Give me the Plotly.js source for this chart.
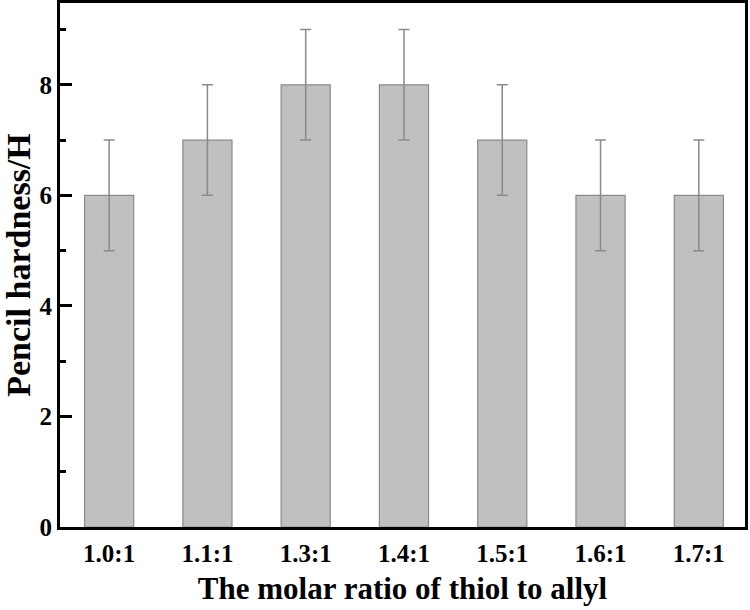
<!DOCTYPE html>
<html>
<head>
<meta charset="utf-8">
<script src="https://cdn.plot.ly/plotly-3.0.1.min.js"></script>
<style>html,body{margin:0;padding:0;background:#fff;}#chart{width:750px;height:610px;}</style>
</head>
<body>
<div id="chart"></div>
<script>
const categories = ["1.0:1", "1.1:1", "1.3:1", "1.4:1", "1.5:1", "1.6:1", "1.7:1"];
const hardness = [6, 7, 8, 8, 7, 6, 6];
const errors = [1, 1, 1, 1, 1, 1, 1];
const yTickVals = [0, 2, 4, 6, 8];
const yMinorVals = [1, 3, 5, 7, 9];
const xLabel = "The molar ratio of thiol to allyl";
const yLabel = "Pencil hardness/H";

const font = {family: "Liberation Serif, Times New Roman, serif", color: "#000"};

const trace = {
  type: "bar",
  x: categories.map((c, i) => i),
  y: hardness,
  width: 0.5,
  marker: {color: "#c0c0c0", line: {color: "#8a8a8a", width: 1.2}},
  error_y: {type: "data", array: errors, visible: true, color: "#8a8a8a", thickness: 1.5, width: 5.5},
  hoverinfo: "none"
};

const layout = {
  width: 750, height: 610,
  margin: {l: 60, r: 5, t: 3, b: 83},
  paper_bgcolor: "#fff", plot_bgcolor: "#fff",
  showlegend: false,
  xaxis: {
    range: [-0.5, 6.47],
    tickmode: "array",
    tickvals: categories.map((c, i) => i),
    ticktext: categories,
    ticks: "", ticklabelstandoff: 2,
    showgrid: false, zeroline: false,
    showline: true, linecolor: "#000", linewidth: 3, mirror: true,
    tickfont: Object.assign({size: 25, weight: "bold"}, font),
    title: {text: "<b>" + xLabel + "</b>", font: Object.assign({size: 31}, font), standoff: 12}
  },
  yaxis: {
    range: [0, 9.48],
    tickmode: "array",
    tickvals: yTickVals,
    ticktext: yTickVals.map(String),
    ticks: "inside", ticklen: 12, tickwidth: 3, tickcolor: "#000",
    minor: {tickvals: yMinorVals, ticks: "inside", ticklen: 6, tickwidth: 3, tickcolor: "#000"},
    showgrid: false, zeroline: false,
    showline: true, linecolor: "#000", linewidth: 3, mirror: true,
    tickfont: Object.assign({size: 25, weight: "bold"}, font),
    title: {text: "<b>" + yLabel + "</b>", font: Object.assign({size: 34}, font), standoff: 6}
  }
};

Plotly.newPlot("chart", [trace], layout, {displayModeBar: false, staticPlot: true});
</script>
</body>
</html>
